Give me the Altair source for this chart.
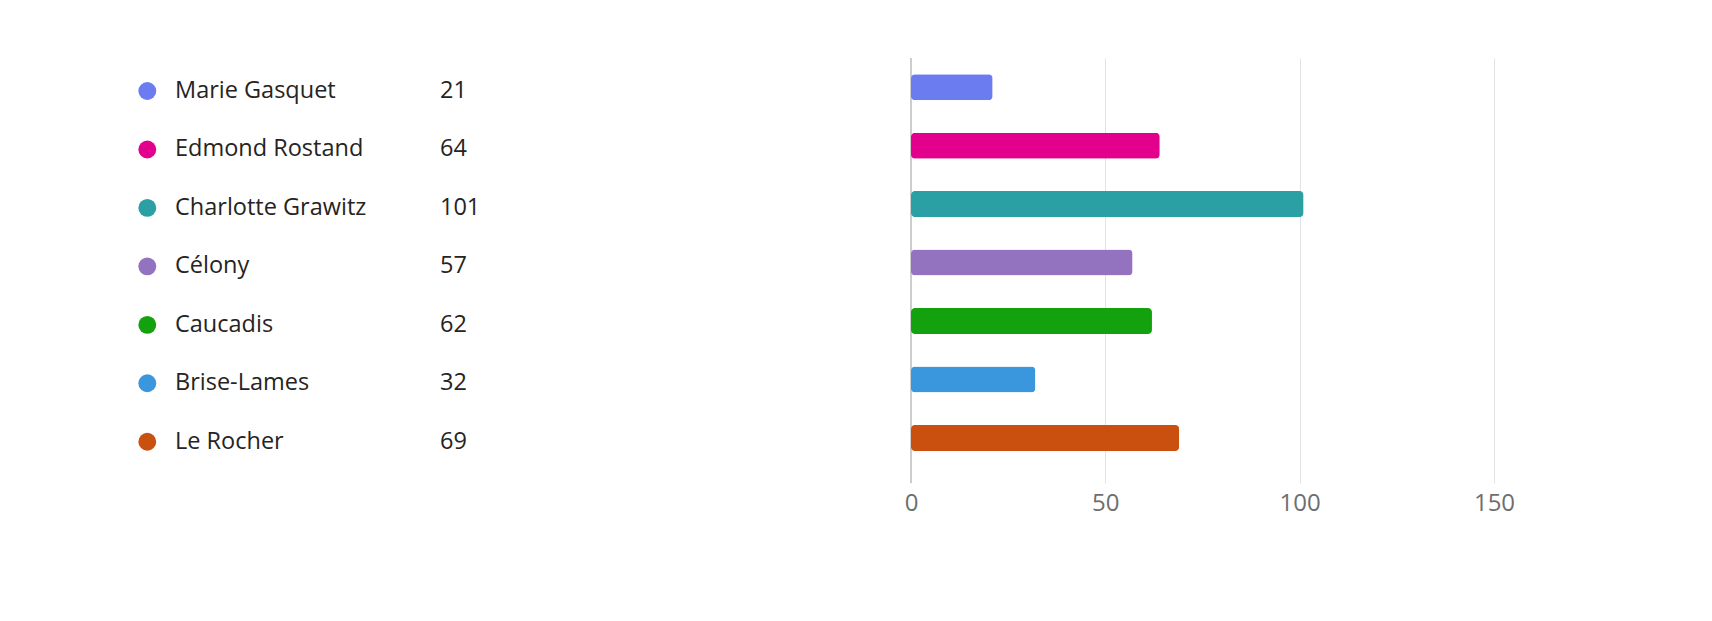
import altair as alt
import pandas as pd

names = ["Marie Gasquet", "Edmond Rostand", "Charlotte Grawitz", "Célony",
         "Caucadis", "Brise-Lames", "Le Rocher"]
counts = [21, 64, 101, 57, 62, 32, 69]
colors = ["#6A7CEF", "#E3008C", "#2AA0A4", "#9373C0", "#13A10E", "#3A96DD", "#CA5010"]
x_ticks = [0, 50, 100, 150]

df = pd.DataFrame({"name": names, "count": counts})

FONT = "Open Sans"
H = 425


def y_enc():
    return alt.Y("name:N", sort=names, axis=None,
                 scale=alt.Scale(type="band", paddingInner=0, paddingOuter=0.1356, align=0))


color_enc = alt.Color("name:N", sort=names,
                      scale=alt.Scale(domain=names, range=colors), legend=None)

base_left = alt.Chart(df).encode(y=y_enc())
dots = base_left.mark_circle(size=320, opacity=1, yOffset=3.8).encode(
    x=alt.value(139.3), color=color_enc)
name_txt = base_left.mark_text(align="left", baseline="middle", fontSize=23.5, font=FONT,
                               color="#252423", yOffset=3.8).encode(
    x=alt.value(167), text="name:N")
val_txt = base_left.mark_text(align="left", baseline="middle", fontSize=23.5, font=FONT,
                              color="#252423", yOffset=3.8).encode(
    x=alt.value(432), text="count:Q")
left = alt.layer(dots, name_txt, val_txt).properties(width=500, height=H)

bars = alt.Chart(df).mark_bar(size=26, cornerRadius=4).encode(
    x=alt.X("count:Q", scale=alt.Scale(domain=[0, 150], nice=False),
            axis=alt.Axis(values=x_ticks, title=None, grid=True, gridColor="#e3e3e3",
                          domain=False, ticks=False, labelFontSize=24,
                          labelColor="#6e6e6e", labelFont=FONT, labelPadding=8,
                          labelFlush=False)),
    y=y_enc(),
    color=color_enc,
)
zero = alt.Chart(df).mark_rule(color="#cccccc", strokeWidth=1.5).encode(x=alt.datum(0))
right = alt.layer(zero, bars).properties(width=583, height=H)

chart = alt.hconcat(left, right, spacing=403, bounds="flush").configure(
    padding={"left": 0, "top": 49, "right": 0, "bottom": 0}
).configure_view(stroke=None)

chart.save("out.html", embed_options={"renderer": "svg", "actions": False})
